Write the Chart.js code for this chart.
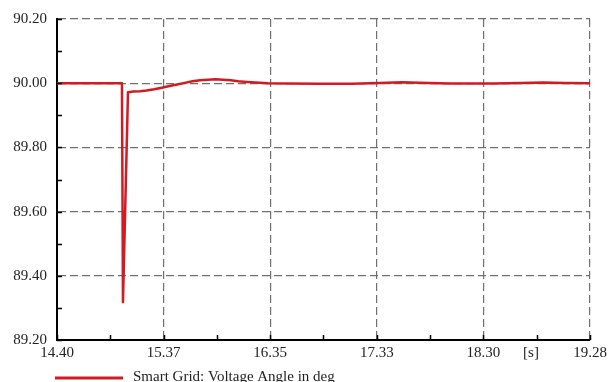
<!DOCTYPE html>
<html>
<head>
<meta charset="utf-8">
<script src="https://cdn.jsdelivr.net/npm/chart.js@4/dist/chart.umd.min.js"></script>
<style>
  html, body { margin: 0; padding: 0; background: #fff; }
  #wrap { width: 611px; height: 382px; }
</style>
</head>
<body>
<div id="wrap"><canvas id="chart" width="611" height="382"></canvas></div>
<script>
// time in s, voltage angle in deg
const times = [14.40, 14.995, 15.004, 15.05, 15.10, 15.16, 15.22, 15.29, 15.36, 15.43, 15.50, 15.57, 15.64, 15.71, 15.78, 15.85, 15.92, 15.99, 16.06, 16.14, 16.22, 16.33, 16.50, 16.80, 17.10, 17.35, 17.56, 17.80, 18.00, 18.40, 18.65, 18.85, 19.05, 19.28];
const angle = [90.00, 90.00, 89.318, 89.972, 89.974, 89.975, 89.977, 89.981, 89.986, 89.991, 89.996, 90.001, 90.006, 90.009, 90.011, 90.012, 90.011, 90.009, 90.006, 90.004, 90.002, 90.000, 89.999, 89.998, 89.998, 90.001, 90.003, 90.001, 89.999, 89.999, 90.001, 90.002, 90.001, 90.000];

const xTicks = [14.40, 15.376, 16.352, 17.328, 18.304, 19.28];
const xTickLabels = ['14.40', '15.37', '16.35', '17.33', '18.30', '19.28'];
const unitTick = 18.74;
const unitLabel = '[s]';
const yTicks = [89.20, 89.40, 89.60, 89.80, 90.00, 90.20];
const seriesLabel = 'Smart Grid: Voltage Angle in deg';

const FONT = "'Liberation Serif', 'DejaVu Serif', serif";
const gridColor = '#6f6f6f';

// small inner ticks (major + minor) and the legend underneath
const extras = {
  id: 'extras',
  afterDraw(chart) {
    const { ctx, chartArea: a, scales: { x, y } } = chart;
    ctx.save();
    ctx.strokeStyle = '#000';
    ctx.lineWidth = 1.5;
    ctx.beginPath();
    for (let i = 0; i < xTicks.length; i++) {
      const vals = [xTicks[i]];
      if (i < xTicks.length - 1) vals.push((xTicks[i] + xTicks[i + 1]) / 2);
      vals.forEach(v => {
        const px = Math.round(x.getPixelForValue(v)) + 0.5;
        ctx.moveTo(px, a.bottom);
        ctx.lineTo(px, a.bottom - 5);
      });
    }
    for (let i = 0; i < yTicks.length; i++) {
      const vals = [yTicks[i]];
      if (i < yTicks.length - 1) vals.push((yTicks[i] + yTicks[i + 1]) / 2);
      vals.forEach(v => {
        const py = Math.round(y.getPixelForValue(v)) + 0.5;
        ctx.moveTo(a.left, py);
        ctx.lineTo(a.left + 5, py);
      });
    }
    ctx.stroke();

    // legend
    const ds = chart.data.datasets[0];
    ctx.strokeStyle = ds.borderColor;
    ctx.lineWidth = 3;
    ctx.beginPath();
    ctx.moveTo(55, 378);
    ctx.lineTo(123, 378);
    ctx.stroke();
    ctx.fillStyle = '#222';
    ctx.font = '15px ' + FONT;
    ctx.textBaseline = 'middle';
    ctx.textAlign = 'left';
    ctx.fillText(ds.label, 133, 377);
    ctx.restore();
  }
};

new Chart(document.getElementById('chart').getContext('2d'), {
  type: 'line',
  data: {
    datasets: [{
      label: seriesLabel,
      data: times.map((t, i) => ({ x: t, y: angle[i] })),
      borderColor: '#d11a22',
      borderWidth: 2.5,
      borderJoinStyle: 'round',
      pointRadius: 0,
      fill: false,
      tension: 0
    }]
  },
  options: {
    responsive: false,
    animation: false,
    devicePixelRatio: 1,
    layout: { padding: { top: 18, right: 21, left: 0, bottom: 0 } },
    plugins: {
      legend: { display: false },
      tooltip: { enabled: false }
    },
    scales: {
      x: {
        type: 'linear',
        min: 14.40,
        max: 19.28,
        afterBuildTicks: s => {
          s.ticks = [...xTicks, unitTick].sort((p, q) => p - q).map(v => ({ value: v }));
        },
        afterFit: s => { s.height = 42; },
        ticks: {
          autoSkip: false,
          maxRotation: 0,
          padding: 4,
          color: '#222',
          font: { family: FONT, size: 15 },
          callback: v => {
            if (Math.abs(v - unitTick) < 1e-6) return unitLabel;
            const i = xTicks.findIndex(t => Math.abs(t - v) < 1e-6);
            return i >= 0 ? xTickLabels[i] : '';
          }
        },
        grid: {
          drawTicks: false,
          lineWidth: 1.2,
          color: c => (c.tick && Math.abs(c.tick.value - unitTick) < 1e-6) ? 'rgba(0,0,0,0)' : gridColor
        },
        border: { display: true, color: '#000', width: 2, dash: [8, 4] }
      },
      y: {
        min: 89.20,
        max: 90.20,
        afterBuildTicks: s => { s.ticks = yTicks.map(v => ({ value: v })); },
        afterFit: s => { s.width = 57; },
        ticks: {
          padding: 10,
          color: '#222',
          font: { family: FONT, size: 15 },
          callback: v => Number(v).toFixed(2)
        },
        grid: { drawTicks: false, lineWidth: 1.2, color: gridColor },
        border: { display: true, color: '#000', width: 2, dash: [8, 4] }
      }
    }
  },
  plugins: [extras]
});
</script>
</body>
</html>
